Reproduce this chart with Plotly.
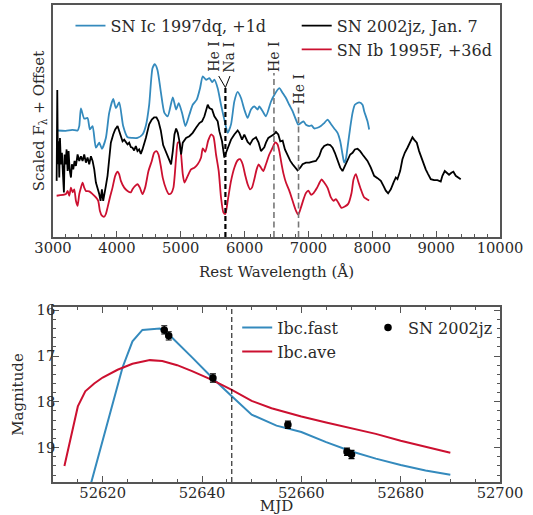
import plotly.graph_objects as go

# ---------------- data: top panel (spectra, scaled flux + offset) ----------------
blue_wl = [3072, 3200, 3300, 3385, 3411, 3437, 3489, 3541, 3578, 3620, 3672, 3724, 3766, 3828,
           3880, 3943, 3985, 4037, 4099, 4167, 4245, 4323, 4401, 4455, 4506, 4558, 4594, 4636,
           4688, 4745, 4797, 4876, 4928, 4969, 5021, 5074, 5136, 5188, 5251, 5303, 5345, 5397,
           5449, 5491, 5527, 5579, 5631, 5683, 5736, 5788, 5840, 5892, 5944, 5996, 6048, 6100,
           6153, 6205, 6231, 6283, 6335, 6413, 6465, 6544, 6596, 6648, 6700, 6752, 6804, 6841,
           6882, 6924, 6961, 7013, 7049, 7091, 7143, 7195, 7247, 7300, 7352, 7404, 7456, 7498,
           7534, 7560, 7586, 7612, 7654, 7691, 7727, 7795, 7847, 7873, 7925, 7951]
blue_fl = [3.15, 3.14, 3.17, 3.15, 3.28, 3.80, 3.50, 3.52, 3.18, 3.28, 2.64, 2.79, 2.61, 2.93,
           3.67, 4.08, 3.81, 3.98, 3.28, 2.95, 2.93, 2.93, 3.03, 3.30, 3.91, 4.99, 5.11, 4.94,
           4.30, 3.67, 3.57, 4.13, 3.77, 3.96, 3.67, 3.28, 3.62, 3.91, 4.06, 4.40, 4.75, 4.65,
           4.70, 4.58, 4.65, 4.40, 3.91, 3.47, 3.08, 3.33, 4.01, 4.29, 4.11, 3.77, 3.52, 3.77,
           3.86, 3.77, 3.86, 3.72, 3.57, 4.00, 4.20, 4.40, 4.26, 4.11, 3.91, 3.72, 3.47, 3.32,
           3.37, 3.42, 3.32, 3.28, 3.30, 3.21, 3.23, 3.28, 3.37, 3.47, 3.34, 3.21, 3.08, 2.83,
           2.44, 2.20, 2.30, 2.64, 3.23, 3.67, 3.91, 3.98, 3.91, 3.72, 3.42, 3.18]

black_wl = [3057, 3067, 3077, 3088, 3098, 3109, 3124, 3140, 3156, 3171, 3182, 3197, 3213, 3229,
            3244, 3260, 3281, 3296, 3317, 3338, 3359, 3385, 3411, 3437, 3463, 3489, 3515, 3541,
            3567, 3594, 3620, 3646, 3672, 3698, 3724, 3745, 3766, 3786, 3807, 3828, 3854, 3880,
            3906, 3943, 3974, 4011, 4037, 4063, 4089, 4115, 4141, 4167, 4193, 4219, 4245, 4271,
            4297, 4323, 4349, 4375, 4401, 4428, 4454, 4506, 4547, 4584, 4620, 4652, 4688, 4725,
            4771, 4823, 4849, 4876, 4902, 4928, 4954, 4980, 5006, 5032, 5084, 5136, 5188, 5240,
            5293, 5334, 5371, 5423, 5449, 5491, 5527, 5579, 5605, 5647, 5683, 5710, 5736, 5788,
            5840, 5892, 5918, 5960, 5996, 6048, 6085, 6127, 6179, 6220, 6257, 6309, 6335, 6372,
            6413, 6455, 6491, 6528, 6559, 6596, 6632, 6674, 6716, 6752, 6789, 6830, 6872, 6908,
            6961, 7013, 7065, 7117, 7169, 7206, 7247, 7300, 7341, 7378, 7414, 7456, 7498, 7534,
            7571, 7612, 7654, 7691, 7727, 7769, 7810, 7847, 7873, 7925, 7977, 8029, 8082, 8134,
            8175, 8212, 8248, 8290, 8332, 8368, 8394, 8436, 8472, 8509, 8551, 8592, 8629, 8655,
            8697, 8733, 8770, 8801, 8837, 8874, 8916, 8968, 9020, 9072, 9098, 9135, 9166, 9202,
            9239, 9270, 9307, 9343, 9385]
black_fl = [1.66, 4.35, 2.15, 2.83, 1.76, 2.93, 2.15, 2.49, 1.86, 1.32, 2.44, 2.15, 2.59, 1.95,
            2.54, 2.00, 1.76, 2.15, 2.00, 2.25, 2.10, 2.44, 2.25, 2.39, 2.25, 2.44, 2.20, 2.35,
            2.15, 2.39, 2.25, 2.00, 1.61, 1.46, 1.27, 1.07, 1.41, 1.07, 1.36, 1.51, 1.81, 2.44,
            2.79, 3.03, 3.18, 3.28, 3.13, 2.98, 2.83, 2.88, 2.79, 2.74, 2.79, 2.66, 2.64, 2.56,
            2.69, 2.54, 2.59, 2.46, 2.59, 2.74, 2.93, 3.33, 3.47, 3.54, 3.54, 3.42, 3.15, 2.72,
            2.50, 2.25, 2.15, 2.54, 3.03, 3.21, 3.08, 2.83, 2.44, 2.79, 2.93, 2.98, 3.08, 3.23,
            3.37, 3.42, 3.57, 3.91, 3.81, 3.77, 3.57, 3.42, 3.13, 2.83, 2.35, 2.49, 2.64, 2.88,
            3.03, 3.15, 3.08, 2.88, 3.03, 2.81, 2.74, 2.88, 2.95, 2.79, 2.54, 2.65, 2.79, 2.93,
            2.98, 3.03, 3.11, 3.03, 2.83, 2.85, 2.59, 2.39, 2.25, 2.15, 2.05, 1.97, 2.05, 2.15,
            2.20, 2.20, 2.23, 2.25, 2.39, 2.59, 2.69, 2.74, 2.72, 2.64, 2.49, 2.25, 2.05, 1.95,
            2.10, 2.25, 2.44, 2.49, 2.59, 2.61, 2.54, 2.44, 2.38, 2.25, 2.05, 1.81, 1.74, 1.66,
            1.51, 1.37, 1.29, 1.41, 1.61, 1.76, 1.71, 1.95, 2.30, 2.49, 2.64, 2.79, 2.95, 2.88,
            2.79, 2.54, 2.35, 2.15, 2.00, 1.86, 1.71, 1.68, 1.68, 1.64, 1.81, 1.95, 1.90, 1.84,
            1.90, 1.93, 1.81, 1.76, 1.71]

red_wl = [3057, 3203, 3229, 3255, 3281, 3307, 3333, 3359, 3385, 3411, 3437, 3463, 3489, 3515,
          3567, 3620, 3672, 3708, 3734, 3766, 3802, 3828, 3854, 3891, 3932, 3974, 4011, 4037,
          4063, 4115, 4167, 4219, 4245, 4287, 4323, 4360, 4401, 4443, 4495, 4547, 4584, 4620,
          4652, 4688, 4719, 4771, 4813, 4849, 4886, 4928, 4954, 4980, 5006, 5032, 5058, 5110,
          5162, 5214, 5266, 5319, 5345, 5385, 5430, 5475, 5511, 5553, 5595, 5631, 5668, 5699,
          5736, 5788, 5840, 5892, 5929, 5970, 6012, 6048, 6085, 6116, 6153, 6189, 6220, 6257,
          6293, 6335, 6387, 6439, 6480, 6515, 6544, 6580, 6611, 6648, 6700, 6752, 6804, 6841,
          6882, 6924, 6961, 7000, 7039, 7081, 7133, 7206, 7247, 7300, 7352, 7393, 7430, 7466,
          7518, 7570, 7623, 7675, 7706, 7743, 7779, 7821, 7873, 7951]
red_fl = [1.22, 1.27, 1.36, 1.22, 1.46, 1.32, 1.41, 1.07, 0.92, 1.27, 1.46, 1.61, 1.46, 1.36,
          1.35, 1.27, 1.17, 1.07, 0.78, 0.63, 0.60, 0.68, 0.87, 1.17, 1.46, 1.81, 1.93, 1.85,
          1.66, 1.46, 1.36, 1.32, 1.41, 1.51, 1.56, 1.46, 1.27, 1.46, 1.95, 2.25, 2.49, 2.54,
          2.44, 2.10, 1.75, 1.42, 1.27, 1.29, 1.46, 2.35, 2.79, 2.79, 2.44, 1.86, 1.61, 1.81,
          2.00, 2.05, 2.15, 2.35, 2.62, 2.52, 2.85, 3.03, 2.98, 2.44, 1.95, 1.17, 0.73, 0.68,
          1.07, 1.66, 2.05, 2.27, 2.30, 2.15, 1.81, 1.56, 1.41, 1.46, 1.71, 2.00, 2.15, 2.05,
          1.95, 2.15, 2.44, 2.64, 2.80, 2.74, 2.54, 2.15, 1.86, 1.61, 1.37, 1.07, 0.78, 0.66,
          0.87, 1.12, 1.30, 1.37, 1.25, 1.30, 1.45, 1.70, 1.61, 1.45, 1.17, 1.07, 1.12, 1.02,
          0.86, 0.90, 0.98, 1.30, 1.70, 1.86, 1.65, 1.41, 1.17, 1.08]

# line identifications (wavelength in Angstrom)
na_wl = 5700
he_wl = [6460, 6845]

# ---------------- data: bottom panel (light curves) ----------------
fast_mjd = [52617.6, 52620, 52622, 52624, 52626, 52628, 52631.5, 52634, 52638, 52642, 52646,
            52650, 52655, 52660, 52665, 52670, 52675, 52680, 52685, 52690]
fast_mag = [19.80, 18.85, 18.00, 17.25, 16.68, 16.43, 16.40, 16.60, 17.03, 17.47, 17.88,
            18.28, 18.52, 18.66, 18.88, 19.08, 19.24, 19.38, 19.50, 19.59]

ave_mjd = [52612.3, 52613.5, 52615, 52616.5, 52618.3, 52620, 52623, 52626, 52629.5, 52632,
           52635, 52638, 52642, 52646, 52650, 52654, 52660, 52665, 52670, 52675, 52680, 52685,
           52690]
ave_mag = [19.40, 18.80, 18.10, 17.77, 17.60, 17.47, 17.30, 17.17, 17.09, 17.11, 17.20, 17.33,
           17.52, 17.74, 17.98, 18.14, 18.32, 18.45, 18.57, 18.70, 18.85, 18.98, 19.11]

obs_mjd = [52632.4, 52633.3, 52642.2, 52657.3, 52669.2, 52670.1]
obs_mag = [16.43, 16.56, 17.48, 18.50, 19.09, 19.15]
obs_err = [0.09, 0.09, 0.09, 0.08, 0.08, 0.09]

spec_mjd = 52646.0

assert len(blue_wl) == len(blue_fl)
assert len(black_wl) == len(black_fl)
assert len(red_wl) == len(red_fl)
assert len(fast_mjd) == len(fast_mag)
assert len(ave_mjd) == len(ave_mag)

BLUE = "#348ABD"
RED = "#CC1030"
FRAME = "#555555"
TXT = "#2a2a2a"
FONT = "DejaVu Serif"

fig = go.Figure()

# top panel spectra
fig.add_trace(go.Scatter(x=blue_wl, y=blue_fl, mode="lines", name="SN Ic 1997dq, +1d",
                         line=dict(color=BLUE, width=1.8, shape="spline", smoothing=0.6),
                         xaxis="x", yaxis="y", legend="legend"))
fig.add_trace(go.Scatter(x=red_wl, y=red_fl, mode="lines", name="SN Ib 1995F, +36d",
                         line=dict(color=RED, width=1.8, shape="spline", smoothing=0.6),
                         xaxis="x", yaxis="y", legend="legend2", legendrank=2))
fig.add_trace(go.Scatter(x=black_wl, y=black_fl, mode="lines", name="SN 2002jz, Jan. 7",
                         line=dict(color="black", width=1.8),
                         xaxis="x", yaxis="y", legend="legend2", legendrank=1))

# bottom panel light curves
fig.add_trace(go.Scatter(x=fast_mjd, y=fast_mag, mode="lines", name="Ibc.fast",
                         line=dict(color=BLUE, width=2),
                         xaxis="x2", yaxis="y2", legend="legend3"))
fig.add_trace(go.Scatter(x=ave_mjd, y=ave_mag, mode="lines", name="Ibc.ave",
                         line=dict(color=RED, width=2),
                         xaxis="x2", yaxis="y2", legend="legend3"))
fig.add_trace(go.Scatter(x=obs_mjd, y=obs_mag, mode="markers", name="SN 2002jz",
                         marker=dict(color="black", size=7.5),
                         error_y=dict(type="data", array=obs_err, color="black",
                                      thickness=1.2, width=3),
                         xaxis="x2", yaxis="y2", legend="legend4"))

# ---------------- shapes & annotations ----------------
shapes = []
annotations = []
y_top_na = 4.42
shapes.append(dict(type="line", xref="x", yref="y", x0=na_wl, x1=na_wl, y0=0, y1=y_top_na,
                   line=dict(color="black", width=2.2, dash="5px,3px")))
shapes.append(dict(type="line", xref="x", yref="y", x0=5595, x1=na_wl, y0=4.76, y1=y_top_na,
                   line=dict(color="black", width=1)))
shapes.append(dict(type="line", xref="x", yref="y", x0=5772, x1=na_wl, y0=4.76, y1=y_top_na,
                   line=dict(color="black", width=1)))
annotations.append(dict(x=5515, y=5.32, xref="x", yref="y", text="He I", textangle=-90,
                        showarrow=False, xanchor="center", yanchor="middle",
                        font=dict(family=FONT, size=14, color=TXT)))
annotations.append(dict(x=5765, y=5.32, xref="x", yref="y", text="Na I", textangle=-90,
                        showarrow=False, xanchor="center", yanchor="middle",
                        font=dict(family=FONT, size=14, color=TXT)))
he_tops = [4.85, 3.90]
he_text_y = [5.32, 4.35]
for w, yt, ty in zip(he_wl, he_tops, he_text_y):
    shapes.append(dict(type="line", xref="x", yref="y", x0=w, x1=w, y0=0, y1=yt,
                       line=dict(color="#777777", width=1.6, dash="6px,3.5px")))
    annotations.append(dict(x=w, y=ty, xref="x", yref="y", text="He I", textangle=-90,
                            showarrow=False, xanchor="center", yanchor="middle",
                            font=dict(family=FONT, size=14, color=TXT)))

shapes.append(dict(type="line", xref="x2", yref="y2 domain", x0=spec_mjd, x1=spec_mjd,
                   y0=0, y1=1, line=dict(color="black", width=1, dash="5px,3px")))

axis_common = dict(showline=True, linecolor=FRAME, linewidth=1.5, showgrid=False,
                   zeroline=False, ticks="inside", tickcolor=FRAME, tickwidth=1.2,
                   ticklen=6, automargin=False,
                   tickfont=dict(family=FONT, size=14.7, color=TXT))

legend_common = dict(font=dict(family=FONT, size=16, color=TXT), bgcolor="rgba(0,0,0,0)",
                     borderwidth=0, xanchor="left", yanchor="top", itemwidth=30,
                     tracegroupgap=0)

fig.update_layout(
    width=533, height=515,
    margin=dict(l=53, r=33, t=5, b=33, autoexpand=False),
    paper_bgcolor="white", plot_bgcolor="white",
    font=dict(family=FONT, color=TXT),
    showlegend=True,
    xaxis=dict(axis_common, domain=[0, 1], anchor="y", range=[3000, 10000], dtick=1000,
               tick0=3000, tickformat="d", mirror=True, ticklabelstandoff=-3,
               minor=dict(dtick=200, ticklen=3, ticks="inside", tickcolor=FRAME),
               title=dict(text="Rest Wavelength (Å)", standoff=11,
                          font=dict(family=FONT, size=15, color=TXT))),
    yaxis=dict(axis_common, domain=[0.5136, 1], anchor="x", range=[0, 6.86],
               showticklabels=False, ticks="", mirror=True,
               title=dict(text="Scaled F<sub>λ</sub> + Offset", standoff=3,
                          font=dict(family=FONT, size=15, color=TXT))),
    xaxis2=dict(axis_common, domain=[0, 1], anchor="y2", range=[52610, 52700], dtick=20,
                tick0=52620, tickformat="d", mirror="ticks", ticklabelstandoff=-3,
                minor=dict(dtick=5, ticklen=3, ticks="inside", tickcolor=FRAME),
                title=dict(text="MJD", standoff=12,
                           font=dict(family=FONT, size=15, color=TXT))),
    yaxis2=dict(axis_common, domain=[0, 0.3669], anchor="x2", range=[19.75, 15.93],
                dtick=1, tick0=16, mirror="ticks", ticklabelstandoff=-7,
                minor=dict(dtick=0.2, ticklen=3, ticks="inside", tickcolor=FRAME),
                title=dict(text="Magnitude", standoff=9,
                           font=dict(family=FONT, size=15, color=TXT))),
    legend=dict(legend_common, x=0.0391, y=0.9924),
    legend2=dict(legend_common, x=0.5452, y=0.9924),
    legend3=dict(legend_common, x=0.4121, y=0.3591),
    legend4=dict(legend_common, x=0.7047, y=0.3591),
    shapes=shapes,
    annotations=annotations,
)

fig.write_html("out.html", config={"displayModeBar": False},
               post_script="document.body.style.margin='0';")
